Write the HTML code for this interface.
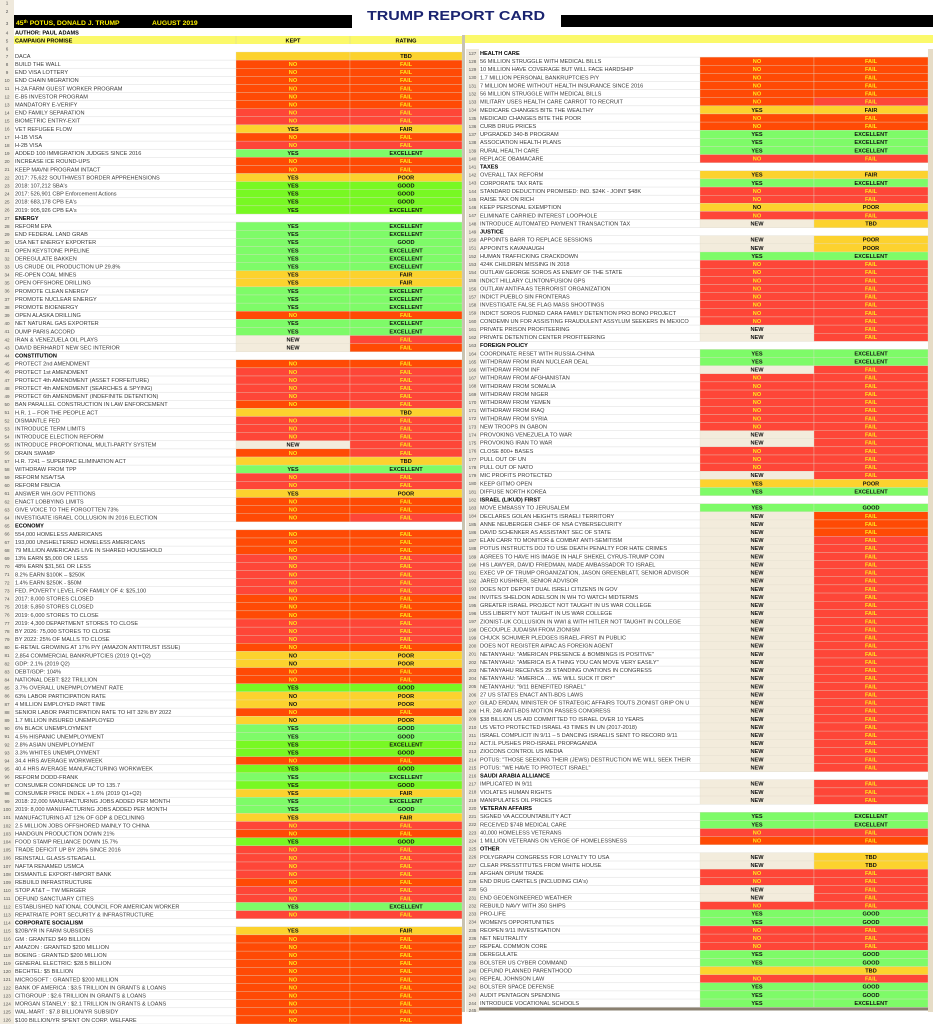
<!DOCTYPE html>
<html><head><meta charset="utf-8"><title>Trump Report Card</title>
<style>
html,body{margin:0;padding:0;background:#fff;}
svg{display:block;font-family:"Liberation Sans",Arial,sans-serif;}
</style></head>
<body>
<svg id="sheet" width="933" height="1024" viewBox="0 0 933 1024" xmlns="http://www.w3.org/2000/svg">
<rect x="0" y="0" width="933" height="1024" fill="#fff"/>
<g id="chrome">
 <rect x="0" y="0" width="14" height="1024" fill="#efe9dc"/>
 <rect x="14" y="15" width="338" height="13" fill="#000"/>
 <text x="16" y="25" font-size="6.8" font-weight="bold" fill="#fff200">45<tspan font-size="4.5" dy="-2">th</tspan><tspan dy="2"> POTUS, DONALD J. TRUMP</tspan></text>
 <text x="152" y="25" font-size="6.8" font-weight="bold" fill="#fff200">AUGUST 2019</text>
 <text x="367" y="20" font-size="13" font-weight="bold" fill="#1b2470" textLength="178" lengthAdjust="spacingAndGlyphs">TRUMP REPORT CARD</text>
 <rect x="561" y="15" width="372" height="12" fill="#000"/>
 <text x="15" y="34.5" font-size="5.6" font-weight="bold" fill="#000">AUTHOR: PAUL ADAMS</text>
 <rect x="14" y="36" width="448" height="8" fill="#fbf96a"/>
 <line x1="236" y1="36" x2="236" y2="44" stroke="#e0dc8a" stroke-width="0.6"/>
 <line x1="350" y1="36" x2="350" y2="44" stroke="#e0dc8a" stroke-width="0.6"/>
 <text x="15" y="42.3" font-size="5.6" font-weight="bold" fill="#000">CAMPAIGN PROMISE</text>
 <text x="293" y="42.3" font-size="5.6" font-weight="bold" fill="#000" text-anchor="middle">KEPT</text>
 <text x="406" y="42.3" font-size="5.6" font-weight="bold" fill="#000" text-anchor="middle">RATING</text>
 <rect x="465" y="35" width="468" height="8" fill="#fbf96a"/>
 <rect x="462" y="35" width="3" height="977" fill="#c9c3b0"/>
 <rect x="928" y="49" width="5" height="963" fill="#e6dcc6"/>
 <rect x="466" y="49" width="13" height="963" fill="#efe9dc"/>
</g>
<g id="rows"></g>
</svg>
<script>
// left table rows 7..126 : label, kept, rating, keptBg, ratingBg ("H" = section header)
const leftLabels = ["DACA","BUILD THE WALL","END VISA LOTTERY","END CHAIN MIGRATION","H-2A FARM GUEST WORKER PROGRAM","E-B5 INVESTOR PROGRAM","MANDATORY E-VERIFY","END FAMILY SEPARATION","BIOMETRIC ENTRY-EXIT","VET REFUGEE FLOW","H-1B VISA","H-2B VISA","ADDED 100 IMMIGRATION JUDGES SINCE 2016","INCREASE ICE ROUND-UPS","KEEP MAVNI PROGRAM INTACT","2017: 75,622 SOUTHWEST BORDER APPREHENSIONS","2018: 107,212 SBA's","2017: 526,901 CBP Enforcement Actions","2018: 683,178 CPB EA's","2019: 905,926 CPB EA's",
"ENERGY","REFORM EPA","END FEDERAL LAND GRAB","USA NET ENERGY EXPORTER","OPEN KEYSTONE PIPELINE","DEREGULATE BAKKEN","US CRUDE OIL PRODUCTION UP 29.8%","RE-OPEN COAL MINES","OPEN OFFSHORE DRILLING","PROMOTE CLEAN ENERGY","PROMOTE NUCLEAR ENERGY","PROMOTE BIOENERGY","OPEN ALASKA DRILLING","NET NATURAL GAS EXPORTER","DUMP PARIS ACCORD","IRAN & VENEZUELA OIL PLAYS","DAVID BERHARDT NEW SEC INTERIOR",
"CONSTITUTION","PROTECT 2nd AMENDMENT","PROTECT 1st AMENDMENT","PROTECT 4th AMENDMENT (ASSET FORFEITURE)","PROTECT 4th AMENDMENT (SEARCHES & SPYING)","PROTECT 6th AMENDMENT (INDEFINITE DETENTION)","BAN PARALLEL CONSTRUCTION IN LAW ENFORCEMENT","H.R. 1 – FOR THE PEOPLE ACT","DISMANTLE FED","INTRODUCE TERM LIMITS","INTRODUCE ELECTION REFORM","INTRODUCE PROPORTIONAL MULTI-PARTY SYSTEM","DRAIN SWAMP","H.R. 7241 – SUPERPAC ELIMINATION ACT","WITHDRAW FROM TPP","REFORM NSA/TSA","REFORM FBI/CIA","ANSWER WH.GOV PETITIONS","ENACT LOBBYING LIMITS","GIVE VOICE TO THE FORGOTTEN 73%","INVESTIGATE ISRAEL COLLUSION IN 2016 ELECTION",
"ECONOMY","554,000 HOMELESS AMERICANS","193,000 UNSHELTERED HOMELESS AMERICANS","79 MILLION AMERICANS LIVE IN SHARED HOUSEHOLD","13% EARN $5,000 OR LESS","48% EARN $31,561 OR LESS","8.2% EARN $100K – $250K","1.4% EARN $250K - $50M","FED. POVERTY LEVEL FOR FAMILY OF 4: $25,100","2017: 8,000 STORES CLOSED","2018: 5,850 STORES CLOSED","2019: 6,000 STORES TO CLOSE","2019: 4,300 DEPARTMENT STORES TO CLOSE","BY 2026: 75,000 STORES TO CLOSE","BY 2022: 25% OF MALLS TO CLOSE","E-RETAIL GROWING AT 17% P/Y (AMAZON ANTITRUST ISSUE)","2,854 COMMERCIAL BANKRUPTCIES (2019 Q1+Q2)","GDP: 2.1% (2019 Q2)","DEBT/GDP: 104%","NATIONAL DEBT: $22 TRILLION","3.7% OVERALL UNEPMPLOYMENT RATE","63% LABOR PARTICIPATION RATE","4 MILLION EMPLOYED PART TIME","SENIOR LABOR PARTICIPATION RATE TO HIT 32% BY 2022","1.7 MILLION INSURED UNEMPLOYED","6%  BLACK UNEMPLOYMENT","4.5% HISPANIC UNEMPLOYMENT","2.8% ASIAN UNEMPLOYMENT","3.3% WHITES UNEMPLOYMENT","34.4 HRS AVERAGE WORKWEEK","40.4 HRS AVERAGE MANUFACTURING WORKWEEK","REFORM DODD-FRANK","CONSUMER CONFIDENCE UP TO 135.7","CONSUMER PRICE INDEX + 1.6% (2019 Q1+Q2)","2018: 22,000 MANUFACTURING JOBS ADDED PER MONTH","2019: 8,000 MANUFACTURING JOBS ADDED PER MONTH","MANUFACTURING AT 12% OF GDP & DECLINING","2.5 MILLION JOBS OFFSHORED MAINLY TO CHINA","HANDGUN PRODUCTION DOWN 21%","FOOD STAMP RELIANCE DOWN 15.7%","TRADE DEFICIT UP BY 28% SINCE 2016","REINSTALL GLASS-STEAGALL","NAFTA RENAMED USMCA","DISMANTLE EXPORT-IMPORT BANK","REBUILD INFRASTRUCTURE","STOP AT&T – TW MERGER","DEFUND SANCTUARY CITIES","ESTABLISHED NATIONAL COUNCIL FOR AMERICAN WORKER","REPATRIATE PORT SECURITY & INFRASTRUCTURE",
"CORPORATE SOCIALISM","$20B/YR IN FARM SUBSIDIES","GM : GRANTED $49 BILLION","AMAZON : GRANTED $200 MILLION","BOEING : GRANTED $200 MILLION","GENERAL ELECTRIC: $28.5 BILLION","BECHTEL: $5 BILLION","MICROSOFT : GRANTED $200 MILLION","BANK OF AMERICA : $3.5 TRILLION IN GRANTS & LOANS","CITIGROUP : $2.6 TRILLION IN GRANTS & LOANS","MORGAN STANELY : $2.1 TRILLION IN GRANTS & LOANS","WAL-MART : $7.8 BILLION/YR SUBSIDY","$100 BILLION/YR SPENT ON CORP. WELFARE"];
// codes: kept-bg kept-text | rating-bg rating-text ; H=header
const leftCodes = ["Y-,YT","ON,OF","ON,OF","ON,OF","ON,OF","ON,OF","ON,OF","RN,RF","RN,RF","YY,YA","ON,OF","RN,RF","GY,GE","ON,OF","ON,OF","YY,YP","LY,LG","LY,LG","LY,LG","LY,LE",
"H","GY,GE","GY,GE","GY,GG","GY,GE","GY,GE","GY,GE","YY,YA","YY,YA","GY,GE","GY,GE","GY,GE","ON,OF","GY,GE","GY,GE","NW,RF","NW,OF",
"H","ON,OF","RN,RF","RN,RF","RN,RF","RN,RF","ON,RF","Y-,YT","RN,RF","RN,RF","RN,RF","NW,RF","ON,RF","Y-,YT","GY,GE","RN,RF","RN,RF","YY,YP","ON,OF","ON,OF","ON,RF",
"H","ON,OF","ON,OF","ON,OF","RN,RF","RN,RF","RN,RF","RN,RF","RN,RF","ON,OF","ON,OF","ON,OF","RN,RF","RN,RF","RN,RF","ON,OF","YK,YP","YK,YP","ON,OF","ON,OF","LY,LG","YK,YP","YK,YP","ON,OF","YK,YP","GY,GG","GY,GG","LY,LE","LY,LG","ON,OF","LY,LG","GY,GE","LY,LG","YY,YA","GY,GE","GY,GG","YY,YA","RN,RF","ON,OF","LY,LG","RN,RF","RN,RF","RN,RF","RN,RF","ON,OF","RN,RF","RN,RF","GY,GE","RN,RF",
"H","YY,YA","ON,OF","ON,OF","ON,OF","ON,OF","ON,OF","ON,OF","ON,OF","ON,OF","ON,OF","ON,OF","ON,OF"];
const rightLabels = ["HEALTH CARE","56 MILLION STRUGGLE WITH MEDICAL BILLS","10 MILLION HAVE COVERAGE BUT WILL FACE HARDSHIP","1.7 MILLION PERSONAL BANKRUPTCIES P/Y","7 MILLION MORE WITHOUT HEALTH INSURANCE SINCE 2016","56 MILLION STRUGGLE WITH MEDICAL BILLS","MILITARY USES HEALTH CARE CARROT TO RECRUIT","MEDICARE CHANGES BITE THE WEALTHY","MEDICAID CHANGES BITE THE POOR","CURB DRUG PRICES","UPGRADED 340-B PROGRAM","ASSOCIATION HEALTH PLANS","RURAL HEALTH CARE","REPLACE OBAMACARE",
"TAXES","OVERALL TAX REFORM","CORPORATE TAX RATE","STANDARD DEDUCTION PROMISED: IND. $24K - JOINT $48K","RAISE TAX ON RICH","KEEP PERSONAL EXEMPTION","ELIMINATE CARRIED INTEREST LOOPHOLE","INTRODUCE AUTOMATED PAYMENT TRANSACTION TAX",
"JUSTICE","APPOINTS BARR TO REPLACE SESSIONS","APPOINTS KAVANAUGH","HUMAN TRAFFICKING CRACKDOWN","424K CHILDREN MISSING IN 2018","OUTLAW GEORGE SOROS AS ENEMY OF THE STATE","INDICT HILLARY CLINTON/FUSION GPS","OUTLAW ANTIFA AS TERRORIST ORGANIZATION","INDICT PUEBLO SIN FRONTERAS","INVESTIGATE FALSE FLAG MASS SHOOTINGS","INDICT SOROS FUDNED CARA FAMILY DETENTION PRO BONO PROJECT","CONDEMN UN FOR ASSISTING FRAUDULENT ASSYLUM SEEKERS IN MEXICO","PRIVATE PRISON PROFITEERING","PRIVATE DETENTION CENTER PROFITEERING",
"FOREIGN POLICY","COORDINATE RESET WITH RUSSIA-CHINA","WITHDRAW FROM IRAN NUCLEAR DEAL","WITHDRAW FROM INF","WITHDRAW FROM AFGHANISTAN","WITHDRAW FROM SOMALIA","WITHDRAW FROM NIGER","WITHDRAW FROM YEMEN","WITHDRAW FROM IRAQ","WITHDRAW FROM SYRIA","NEW TROOPS IN GABON","PROVOKING VENEZUELA TO WAR","PROVOKING IRAN TO WAR","CLOSE 800+ BASES","PULL OUT OF UN","PULL OUT OF NATO","MIC PROFITS PROTECTED","KEEP GITMO OPEN","DIFFUSE NORTH KOREA",
"ISRAEL (LIKUD) FIRST","MOVE EMBASSY TO JERUSALEM","DECLARES GOLAN HEIGHTS ISRAELI TERRITORY","ANNE NEUBERGER CHIEF OF NSA CYBERSECURITY","DAVID SCHENKER AS ASSISTANT SEC OF STATE","ELAN CARR TO MONITOR & COMBAT ANTI-SEMITISM","POTUS INSTRUCTS DOJ TO USE DEATH PENALTY FOR HATE CRIMES","AGREES TO HAVE HIS IMAGE IN HALF SHEKEL CYRUS-TRUMP COIN","HIS LAWYER, DAVID FRIEDMAN, MADE AMBASSADOR TO ISRAEL","EXEC VP OF TRUMP ORGANIZATION, JASON GREENBLATT, SENIOR ADVISOR","JARED KUSHNER, SENIOR ADVISOR","DOES NOT DEPORT DUAL ISRELI CITIZENS IN GOV","INVITES SHELDON ADELSON IN WH TO WATCH MIDTERMS","GREATER ISRAEL PROJECT NOT TAUGHT IN US WAR COLLEGE","USS LIBERTY NOT TAUGHT IN US WAR COLLEGE","ZIONIST-UK COLLUSION IN WWI & WITH HITLER NOT TAUGHT IN COLLEGE","DECOUPLE JUDAISM FROM ZIONISM","CHUCK SCHUMER PLEDGES ISRAEL-FIRST IN PUBLIC","DOES NOT REGISTER AIPAC AS FOREIGN AGENT","NETANYAHU: \"AMERICAN PRESENCE & BOMBINGS IS POSITIVE\"","NETANYAHU: \"AMERICA IS A THING YOU CAN MOVE VERY EASILY\"","NETANYAHU RECEIVES 29 STANDING OVATIONS IN CONGRESS","NETANYAHU: \"AMERICA … WE WILL SUCK IT DRY\"","NETANYAHU: \"9/11 BENEFITED ISRAEL\"","27 US STATES ENACT ANTI-BDS LAWS","GILAD ERDAN, MINISTER OF STRATEGIC AFFAIRS TOUTS ZIONIST GRIP ON U","H.R. 246 ANTI-BDS MOTION PASSES CONGRESS","$38 BILLION US AID COMMITTED TO ISRAEL OVER 10 YEARS","US VETO PROTECTED ISRAEL 43 TIMES IN UN (2017-2018)","ISRAEL COMPLICIT IN 9/11 – 5 DANCING ISRAELIS SENT TO RECORD 9/11","ACT.IL PUSHES PRO-ISRAEL PROPAGANDA","ZIOCONS CONTROL US MEDIA","POTUS: \"THOSE SEEKING THEIR (JEWS) DESTRUCTION WE WILL SEEK THEIR","POTUS: \"WE HAVE TO PROTECT ISRAEL\"",
"SAUDI ARABIA ALLIANCE","IMPLICATED IN 9/11","VIOLATES HUMAN RIGHTS","MANIPULATES OIL PRICES",
"VETERAN AFFAIRS","SIGNED VA ACCOUNTABILITY ACT","RECEIVED $74B MEDICAL CARE","40,000 HOMELESS VETERANS","1 MILLION VETERANS ON VERGE OF HOMELESSNESS",
"OTHER","POLYGRAPH CONGRESS FOR LOYALTY TO USA","CLEAR PRESSTITUTES FROM WHITE HOUSE","AFGHAN OPIUM TRADE","END DRUG CARTELS (INCLUDING CIA's)","5G","END GEOENGINEERED WEATHER","REBUILD NAVY WITH 350 SHIPS","PRO-LIFE","WOMEN'S OPPORTUNITIES","REOPEN 9/11 INVESTIGATION","NET NEUTRALITY","REPEAL COMMON CORE","DEREGULATE","BOLSTER US CYBER COMMAND","DEFUND PLANNED PARENTHOOD","REPEAL JOHNSON LAW","BOLSTER SPACE DEFENSE","AUDIT PENTAGON SPENDING","INTRODUCE VOCATIONAL SCHOOLS"];
const rightCodes = ["H","ON,OF","ON,OF","ON,OF","ON,OF","ON,OF","ON,RF","YY,YA","ON,OF","ON,OF","GY,GE","GY,GE","GY,GE","RN,RF",
"H","YY,YA","GY,GE","RN,RF","RN,RF","YK,YP","RN,RF","NW,YT",
"H","NW,YP","NW,YP","GY,GE","RN,RF","RN,RF","RN,RF","RN,RF","RN,RF","RN,RF","RN,RF","RN,RF","NW,RF","NW,RF",
"H","GY,GE","GY,GE","NW,RF","RN,RF","RN,RF","RN,RF","RN,RF","RN,RF","RN,RF","RN,RF","NW,RF","NW,RF","RN,RF","RN,RF","RN,RF","NW,RF","YY,YP","GY,GE",
"H","GY,GG","NW,OF","NW,OF","NW,OF","NW,RF","NW,RF","NW,RF","NW,RF","NW,RF","NW,RF","NW,RF","NW,RF","NW,RF","NW,RF","NW,RF","NW,RF","NW,RF","NW,RF","NW,RF","NW,RF","NW,RF","NW,RF","NW,RF","NW,RF","NW,RF","NW,RF","NW,RF","NW,RF","NW,RF","NW,RF","NW,RF","NW,RF","NW,RF",
"H","NW,RF","NW,RF","NW,RF",
"H","GY,GE","GY,GE","RN,RF","ON,OF",
"H","NW,YT","NW,YT","RN,RF","RN,RF","NW,RF","NW,RF","RN,RF","GY,GG","GY,GG","RN,RF","RN,RF","RN,RF","GY,GG","GY,GG","Y-,YT","RN,RF","GY,GG","GY,GG","GY,GE"];

const BG = {O:"#ff4a05",R:"#fe4638",Y:"#fcd22e",G:"#7efb68",L:"#78f823",N:"#f3ecdc"};
const TXT = {N:"NO",Y:"YES",W:"NEW",K:"NO",F:"FAIL",A:"FAIR",P:"POOR",G:"GOOD",E:"EXCELLENT",T:"TBD","-":""};
const NS = "http://www.w3.org/2000/svg";
const rowsG = document.getElementById("rows");
function mk(tag, attrs, parent){ const e=document.createElementNS(NS,tag); for(const k in attrs) e.setAttribute(k,attrs[k]); parent.appendChild(e); return e; }

function drawTable(labels, codes, startNum, y0, rh, x){
  labels.forEach((lab,i)=>{
    const y = y0 + i*rh;
    const g = mk("g",{},rowsG);
    
    
    const num = mk("text",{x:x.num, y:y+rh-2.3, "font-size":4.6, fill:"#555", "text-anchor":"middle"},g);
    num.textContent = startNum+i;
    mk("line",{x1:x.lab, y1:y+rh, x2:x.end, y2:y+rh, stroke:"#dcdcdc", "stroke-width":0.5},g);
    const c = codes[i];
    const t = mk("text",{x:x.lab+1, y:y+rh-2.2, "font-size":5.6, fill: c==="H"?"#000":"#3a3a3a", "font-weight": c==="H"?"bold":"normal"},g);
    t.textContent = lab;
    if(c==="H") return;
    const [k,r] = c.split(",");
    const cells = [[k, x.kept, x.rate],[r, x.rate, x.end]];
    cells.forEach(([cd,x1,x2],j)=>{
      const rect = mk("rect",{x:x1, y:y, width:x2-x1, height:rh, fill:BG[cd[0]], stroke:"#e2dccc", "stroke-width":0.3},g);
      
      
      const word = TXT[cd[1]];
      if(!word) return;
      const yellowTxt = (cd[0]==="O"||cd[0]==="R") && (word==="NO"||word==="FAIL");
      const tt = mk("text",{x:(x1+x2)/2, y:y+rh-2.2, "font-size":5.6, "font-weight":"bold", "text-anchor":"middle", fill: yellowTxt?"#ffe81a":"#111"},g);
      tt.textContent = word;
    });
  });
}
drawTable(leftLabels, leftCodes, 7, 52, 8.1, {num:7, lab:14, kept:236, rate:350, end:462});
drawTable(rightLabels, rightCodes, 127, 49, 8.12, {num:472.5, lab:479, kept:700, rate:814, end:928});
// row 245 closing bar
mk("rect",{x:479,y:1007.5,width:449,height:3,fill:"#8a8070"},rowsG);
const n245 = mk("text",{x:472.5,y:1012,"font-size":4.6,fill:"#555","text-anchor":"middle"},rowsG);
n245.textContent = "245";
// left small row numbers 1-6
[[1,4.5],[2,13],[3,25],[4,34.5],[5,42.3],[6,50.3]].forEach(([n,yy])=>{
  const t = mk("text",{x:7,y:yy,"font-size":4.6,fill:"#555","text-anchor":"middle"},rowsG);
  t.textContent = n;
});
</script>
</body></html>
